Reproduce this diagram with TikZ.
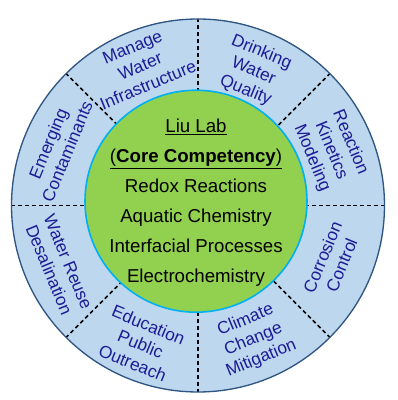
\documentclass[tikz,border=0pt]{standalone}
\usepackage{fontspec}
\setmainfont{Liberation Sans}

\definecolor{ringblue}{RGB}{189,215,238}
\definecolor{ringedge}{RGB}{47,85,130}
\definecolor{coregreen}{RGB}{146,208,80}
\definecolor{coreedge}{RGB}{0,176,240}
\definecolor{areablue}{RGB}{28,28,150}

\tikzset{
  area/.style={text=areablue, align=center, inner sep=0pt,
    font=\fontsize{13}{15.5}\selectfont},
  corelist/.style={align=center, inner sep=0pt,
    font=\fontsize{14}{22.5}\selectfont},
  divider/.style={dash pattern=on 3pt off 2.2pt, line width=1.1pt}
}

\begin{document}
\begin{tikzpicture}[x=0.75pt,y=0.75pt]
  \useasboundingbox (-198,-194.5) rectangle (199,205.5);
  \fill[ringblue] (0,0) circle (186.5);
  \foreach \a in {0,45,...,315}
    \draw[divider] (\a:100) -- (\a:186.5);
  \draw[coreedge, line width=1.2pt, fill=coregreen] (-2,4.3) circle (111);
  \draw[ringedge, line width=1pt] (0,0) circle (186.5);
  \node[corelist] (core) at (-2,3) {\underline{Liu Lab}\\
    \underline{(\textbf{Core Competency})}\\
    Redox Reactions\\
    Aquatic Chemistry\\
    Interfacial Processes\\
    Electrochemistry};
  \node[area, rotate=-67.5] (kinetics) at (22.5:144) {Reaction\\Kinetics\\Modeling};
  \node[area, rotate=-22.5] (drinking) at (67.5:145) {Drinking\\Water\\Quality};
  \node[area, rotate=22.5] (infra) at (112.5:151) {Manage\\Water\\Infrastructure};
  \node[area, rotate=67.5] (emerging) at (157.5:152) {Emerging\\Contaminants};
  \node[area, rotate=-67.5] (reuse) at (203.5:152) {Water Reuse\\Desalination};
  \node[area, rotate=-22.5] (outreach) at (247.5:150) {Education\\Public\\Outreach};
  \node[area, rotate=22.5] (climate) at (292.5:145) {Climate\\Change\\Mitigation};
  \node[area, rotate=67.5] (corrosion) at (337.5:145) {Corrosion\\Control};
\end{tikzpicture}
\end{document}
